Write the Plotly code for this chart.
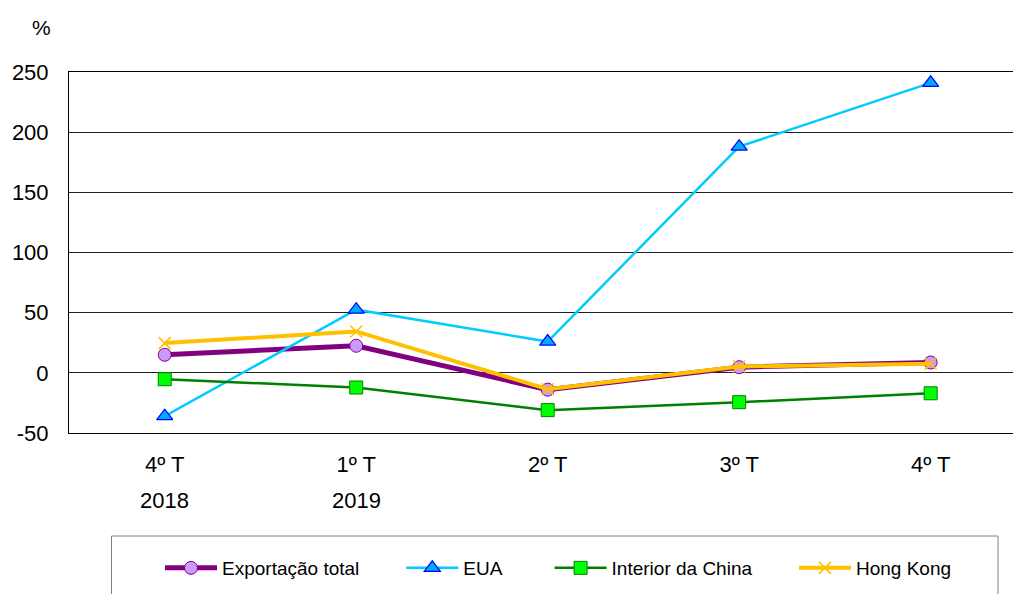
import plotly.graph_objects as go

categories = ["4º T", "1º T", "2º T", "3º T", "4º T"]
years = ["2018", "2019"]
y_tick_values = [-50, 0, 50, 100, 150, 200, 250]
y_tick_labels = ["-50", "0", "50", "100", "150", "200", "250"]
exportacao_total = [15.0, 22.5, -14.0, 4.7, 8.6]
eua = [-36.0, 52.5, 26.0, 188.0, 241.0]
interior_china = [-5.3, -12.2, -31.0, -24.4, -17.0]
hong_kong = [24.7, 34.4, -13.6, 5.3, 7.5]

FONT = "Arial, Liberation Sans, sans-serif"
x = list(range(len(categories)))
nb = "\u00a0"

fig = go.Figure()
fig.add_trace(go.Scatter(
    x=x, y=exportacao_total, name="Exportação total" + nb * 7, mode="lines+markers",
    line=dict(color="#800080", width=5),
    marker=dict(symbol="circle", size=13, color="#CC99FF", line=dict(color="#800080", width=1)),
))
fig.add_trace(go.Scatter(
    x=x, y=eua, name="EUA" + nb * 8, mode="lines+markers",
    line=dict(color="#00CCFF", width=2.5),
    marker=dict(symbol="triangle-up", size=14, color="#00AAFF", line=dict(color="#0000FF", width=1.2)),
))
fig.add_trace(go.Scatter(
    x=x, y=interior_china, name="Interior da China" + nb * 7, mode="lines+markers",
    line=dict(color="#008000", width=2.5),
    marker=dict(symbol="square", size=13, color="#00FF00", line=dict(color="#008000", width=1)),
))
fig.add_trace(go.Scatter(
    x=x, y=hong_kong, name="Hong Kong", mode="lines+markers",
    line=dict(color="#FFC000", width=4),
    marker=dict(symbol="x-thin", size=12, color="#FFC000", line=dict(color="#FFC000", width=1.5)),
))

W, H = 1013, 594
ml, mr, mt, mb = 69, 0, 72, 161
pw, ph = W - ml - mr, H - mt - mb

def px_to_paper_x(px):
    return (px - ml) / pw

def px_to_paper_y(py):
    return (H - mb - py) / ph

annotations = [
    dict(text="%", x=px_to_paper_x(41), y=px_to_paper_y(27), xref="paper", yref="paper",
         showarrow=False, font=dict(size=21, color="black", family=FONT), xanchor="center", yanchor="middle"),
]
for i, yr in enumerate(years):
    annotations.append(dict(text=yr, x=i, y=px_to_paper_y(500), xref="x", yref="paper",
                            showarrow=False, font=dict(size=22, color="black", family=FONT),
                            xanchor="center", yanchor="middle"))

fig.update_layout(
    width=W, height=H,
    margin=dict(l=ml, r=mr, t=mt, b=mb, autoexpand=False),
    paper_bgcolor="white", plot_bgcolor="white",
    font=dict(family=FONT, color="black", size=22),
    showlegend=True,
    legend=dict(
        orientation="h", x=px_to_paper_x(160), xanchor="left",
        y=px_to_paper_y(568), yanchor="middle",
        font=dict(size=19, family=FONT, color="black"),
        bgcolor="rgba(0,0,0,0)", borderwidth=0, itemwidth=52,
    ),
    annotations=annotations,
    shapes=[dict(type="rect", xref="paper", yref="paper",
                 x0=px_to_paper_x(111.5), x1=px_to_paper_x(998),
                 y0=px_to_paper_y(536), y1=px_to_paper_y(610),
                 line=dict(color="#808080", width=1), fillcolor="rgba(0,0,0,0)")],
    xaxis=dict(
        tickmode="array", tickvals=x, ticktext=categories,
        range=[-0.5, 4.43], showgrid=False, zeroline=False,
        showline=True, linecolor="black", linewidth=1, mirror=True,
        ticks="", ticklabelstandoff=12,
        tickfont=dict(size=22, family=FONT, color="black"),
    ),
    yaxis=dict(
        range=[-50, 250], tickmode="array", tickvals=y_tick_values, ticktext=y_tick_labels,
        showgrid=True, gridcolor="#202020", gridwidth=1,
        zeroline=True, zerolinecolor="#202020", zerolinewidth=1,
        showline=True, linecolor="black", linewidth=1,
        ticks="", ticklabelstandoff=15,
        tickfont=dict(size=22, family=FONT, color="black"),
    ),
)

fig.write_html(
    "out.html",
    config={"displayModeBar": False},
    post_script="document.body.style.margin='0';document.body.style.overflow='hidden';",
)
